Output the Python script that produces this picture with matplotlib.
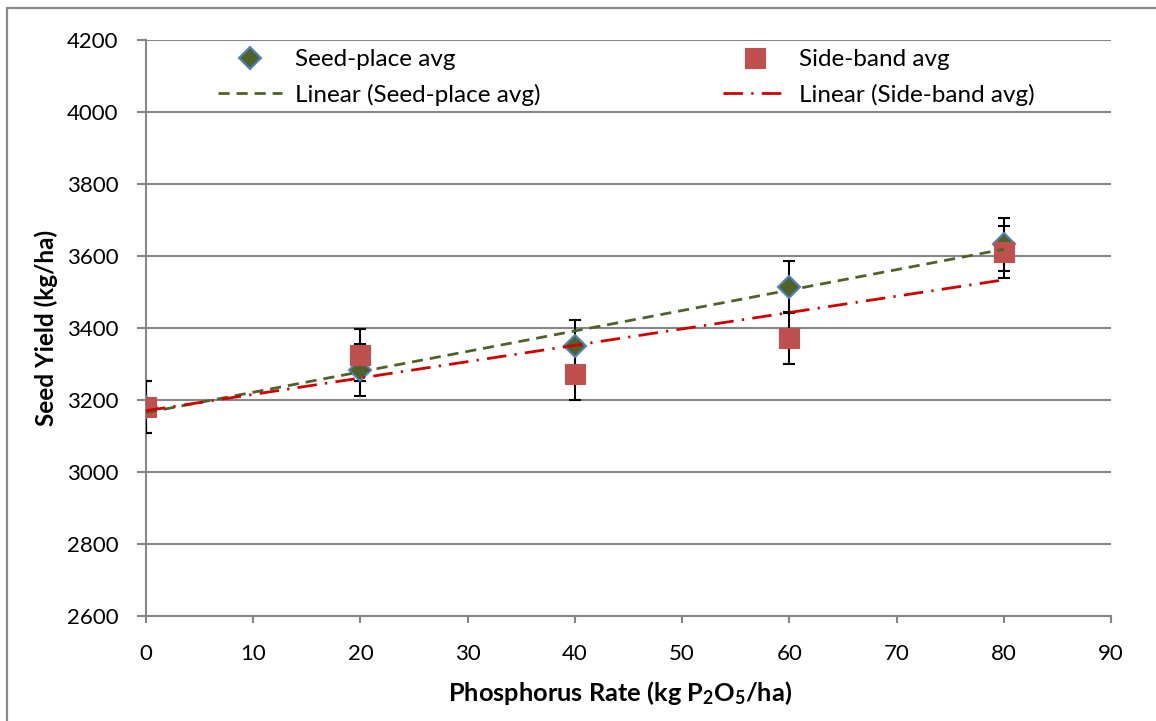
import numpy as np
import matplotlib
matplotlib.use("Agg")
import matplotlib.pyplot as plt
from matplotlib.patches import Rectangle

# values
rates = [0, 20, 40, 60, 80]
seed_place = [3180, 3283, 3350, 3514, 3632]
side_band = [3180, 3325, 3272, 3372, 3611]
seed_err = [73, 73, 73, 73, 73]
side_err = [73, 73, 73, 73, 73]

plt.rcParams['font.family'] = ['Lato', 'DejaVu Sans']
plt.rcParams['mathtext.fontset'] = 'custom'
plt.rcParams['mathtext.rm'] = 'Lato'
plt.rcParams['mathtext.bf'] = 'Lato:bold'

grey = '#868686'
W, H = 1156, 721

fig = plt.figure(figsize=(W / 100, H / 100), dpi=100)
ax = fig.add_axes([146 / W, 1 - 616 / H, (1111 - 146) / W, (616 - 40) / H])

# error bars
for yv, ev in [(seed_place, seed_err), (side_band, side_err)]:
    ax.errorbar(rates, yv, yerr=ev, fmt='none', ecolor='black',
                elinewidth=1.5, capsize=4.5, capthick=1.5, zorder=3)

# markers
ax.plot(rates, seed_place, linestyle='none', marker='D', markersize=11.5,
        markerfacecolor='#4F6228', markeredgecolor='#4F81BD', markeredgewidth=1.5,
        label='Seed-place avg', zorder=4)
ax.plot(rates, side_band, linestyle='none', marker='s', markersize=14,
        markerfacecolor='#C0504D', markeredgecolor='#C0504D', markeredgewidth=0.8,
        label='Side-band avg', zorder=5)

# linear trendlines
x = np.array(rates, dtype=float)
p1 = np.polyfit(x, seed_place, 1)
p2 = np.polyfit(x, side_band, 1)
xx = np.array([x.min(), x.max()])
ax.plot(xx, np.polyval(p1, xx), color='#4F6228', linestyle=(0, (4, 2.5)), linewidth=2,
        label='Linear (Seed-place avg)', zorder=6)
ax.plot(xx, np.polyval(p2, xx), color='#D00000', linestyle=(0, (7, 3, 0.8, 3)), linewidth=2,
        label='Linear (Side-band avg)', zorder=6)

ax.set_xlim(0, 90)
ax.set_ylim(2600, 4200)
ax.set_xticks(range(0, 91, 10))
ax.set_yticks(range(2600, 4201, 200))
ax.yaxis.grid(True, color=grey, linewidth=1.5)
ax.set_axisbelow(True)
for s in ['top', 'right']:
    ax.spines[s].set_visible(False)
for s in ['left', 'bottom']:
    ax.spines[s].set_color(grey)
    ax.spines[s].set_linewidth(1.5)
ax.tick_params(axis='both', colors=grey, width=1.5, labelsize=16, labelcolor='black')
ax.tick_params(axis='y', length=6.5, pad=13.5)
ax.tick_params(axis='x', length=5, pad=15)

ax.set_xlabel(r'Phosphorus Rate (kg $\mathbf{P_2O_5}$/ha)', fontsize=18.3,
              fontweight='bold')
ax.xaxis.set_label_coords((620 - 146) / 965, -(693 - 616) / 576)
ax.xaxis.label.set_va('center')
ax.set_ylabel('Seed Yield (kg/ha)', fontsize=17.5, fontweight='bold', labelpad=6)

h, l = ax.get_legend_handles_labels()
order = [0, 2, 1, 3]
ax.legend([h[i] for i in order], [l[i] for i in order], ncol=2, frameon=False,
          loc='upper left', bbox_to_anchor=((218 - 146) / 965, 0.984),
          borderpad=0, borderaxespad=0, fontsize=17.5,
          columnspacing=7.5, handlelength=2.63, handletextpad=0.53, labelspacing=0.55)

# chart area border (only left and top edges fall inside the image)
fig.patches.append(Rectangle((7 / W, -0.5), 2, 1.5 - 8 / H, transform=fig.transFigure,
                             fill=False, edgecolor='#8C8C8C', linewidth=1.6))

fig.savefig('out.png', dpi=100)
